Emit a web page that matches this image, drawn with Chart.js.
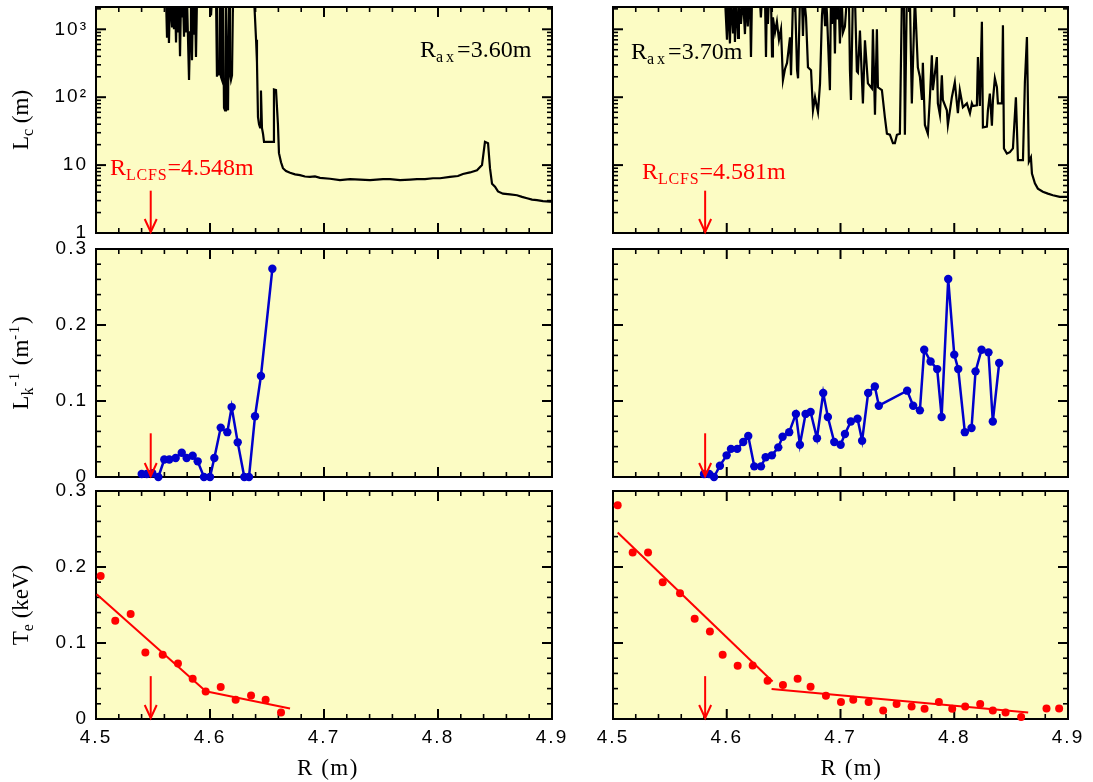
<!DOCTYPE html>
<html><head><meta charset="utf-8">
<script src="https://cdn.jsdelivr.net/npm/chart.js@4.4.1/dist/chart.umd.min.js"></script>
<style>
html,body{margin:0;padding:0;background:#fff;}
#wrap{position:relative;width:1093px;height:782px;overflow:hidden;background:#fff;}
canvas{position:absolute;left:0;top:0;}
</style></head><body><div id="wrap">
<canvas id="c0" width="1093" height="782"></canvas>
<canvas id="c1" width="1093" height="782"></canvas>
<canvas id="c2" width="1093" height="782"></canvas>
<canvas id="c3" width="1093" height="782"></canvas>
<canvas id="c4" width="1093" height="782"></canvas>
<canvas id="c5" width="1093" height="782"></canvas>
</div>
<script>
// ---------------- data ----------------
const xTicks = [4.5, 4.6, 4.7, 4.8, 4.9];
const xTickLabels = ['4.5', '4.6', '4.7', '4.8', '4.9'];
const lcTickVals = [1, 10, 100, 1000];
const lcTickLabels = ['1', '10', '10\u00B2', '10\u00B3'];
const linTickVals = [0, 0.1, 0.2, 0.3];
const linTickLabels = ['0', '0.1', '0.2', '0.3'];

const rLCFS360 = 4.548;
const rLCFS370 = 4.581;

// connection length L_c (m), R_ax = 3.60 m
const lc360 = [
[4.5605,3000],[4.5614,3000],[4.5623,750],[4.5632,3000],[4.5640,630],[4.5649,3000],[4.5667,1100],[4.5675,3000],
[4.5684,1000],[4.5693,3000],[4.5702,640],[4.5711,3000],[4.5719,900],[4.5728,3000],[4.5737,400],[4.5746,3000],
[4.5754,1500],[4.5763,3000],[4.5772,780],[4.5781,3000],[4.5789,900],[4.5798,3000],[4.5816,180],[4.5825,900],
[4.5833,3000],[4.5842,350],[4.5851,3000],[4.5860,860],[4.5868,3000],[4.5877,390],[4.5886,3000],[4.6000,3000],
[4.6009,1600],[4.6018,3000],[4.6053,3000],[4.6061,200],[4.6070,350],[4.6079,210],[4.6088,3000],[4.6096,200],
[4.6105,180],[4.6114,3000],[4.6123,70],[4.6132,64],[4.6140,3000],[4.6149,200],[4.6158,64],[4.6167,3000],
[4.6175,230],[4.6184,180],[4.6193,210],[4.6202,3000],[4.6386,3000],[4.6404,700],[4.6412,330],[4.6421,51],
[4.6430,40],[4.6439,36],[4.6447,125],[4.6456,35],[4.6465,29],[4.6474,22],[4.6553,22],[4.6561,130],
[4.6579,127],[4.6596,40],[4.6605,15],[4.6623,11],[4.6640,9],[4.6667,8.2],[4.6702,7.7],[4.6746,7.3],
[4.6789,7.1],[4.6833,6.8],[4.6877,6.7],[4.6921,6.8],[4.6965,6.5],[4.7053,6.3],[4.7140,6.0],[4.7228,6.2],
[4.7316,6.1],[4.7404,6.0],[4.7518,6.2],[4.7579,6.2],[4.7667,6.0],[4.7754,6.1],[4.7816,6.2],[4.7886,6.2],
[4.7956,6.4],[4.8018,6.4],[4.8105,6.7],[4.8175,6.9],[4.8219,7.4],[4.8281,7.8],[4.8342,8.4],[4.8386,10],
[4.8412,22],[4.8439,21],[4.8456,9],[4.8474,5.3],[4.8500,4.8],[4.8526,4.1],[4.8570,3.8],[4.8632,3.7],
[4.8693,3.6],[4.8737,3.4],[4.8781,3.25],[4.8825,3.1],[4.8868,3.05],[4.8921,2.95],[4.8982,2.9],[4.9000,2.9]
];

// connection length L_c (m), R_ax = 3.70 m
const lc370 = [
[4.5984,3000],[4.6002,700],[4.6011,3000],[4.6028,620],[4.6037,3000],[4.6055,900],[4.6063,3000],[4.6072,650],
[4.6081,3000],[4.6099,750],[4.6107,3000],[4.6125,1200],[4.6143,3000],[4.6160,850],[4.6170,3000],[4.6185,1100],
[4.6195,3000],[4.6204,3000],[4.6213,390],[4.6222,3000],[4.6290,3000],[4.6300,1500],[4.6310,3000],
[4.6336,3000],[4.6345,390],[4.6353,3000],[4.6362,1200],[4.6371,3000],[4.6389,3000],[4.6398,400],[4.6406,1500],
[4.6424,900],[4.6441,1300],[4.6459,700],[4.6477,1000],[4.6494,178],[4.6512,260],[4.6530,320],[4.6556,760],
[4.6565,210],[4.6583,3000],[4.6600,3000],[4.6618,250],[4.6627,190],[4.6644,3000],[4.6661,3000],[4.6670,800],
[4.6680,3000],[4.6697,1500],[4.6714,275],[4.6741,250],[4.6758,64],[4.6776,100],[4.6793,71],[4.6802,60],
[4.6820,160],[4.6837,1600],[4.6850,3000],[4.6864,1150],[4.6872,3000],[4.6881,1700],[4.6907,127],[4.6916,3000],
[4.6925,1200],[4.6940,3000],[4.6951,440],[4.6960,3000],[4.6969,1400],[4.6982,3000],[4.6995,620],[4.7010,3000],
[4.7022,900],[4.7039,1100],[4.7057,3000],[4.7074,3000],[4.7083,250],[4.7092,91],[4.7109,3000],[4.7127,3000],
[4.7144,240],[4.7153,230],[4.7171,960],[4.7197,81],[4.7215,690],[4.7241,160],[4.7276,135],[4.7285,1000],
[4.7303,55],[4.7320,1000],[4.7329,140],[4.7364,127],[4.7390,51],[4.7408,29],[4.7434,28],[4.7461,21],
[4.7478,21],[4.7496,28],[4.7522,29],[4.7540,3000],[4.7557,3000],[4.7566,28],[4.7583,3000],[4.7610,3000],
[4.7627,81],[4.7654,3000],[4.7680,275],[4.7698,200],[4.7716,91],[4.7724,320],[4.7742,39],[4.7768,29],
[4.7786,100],[4.7803,415],[4.7812,127],[4.7847,390],[4.7856,81],[4.7874,55],[4.7891,210],[4.7900,91],
[4.7935,64],[4.7944,39],[4.7979,100],[4.8005,166],[4.8032,58],[4.8049,127],[4.8076,71],[4.8111,81],
[4.8138,58],[4.8155,81],[4.8164,74],[4.8199,76],[4.8208,390],[4.8225,74],[4.8243,1290],[4.8252,36],
[4.8287,37],[4.8296,64],[4.8313,113],[4.8331,38],[4.8340,90],[4.8357,190],[4.8375,140],[4.8384,81],
[4.8419,81],[4.8428,1150],[4.8437,17.6],[4.8463,14.8],[4.8489,15.5],[4.8516,17.6],[4.8542,100],[4.8560,11.8],
[4.8604,11.8],[4.8621,167],[4.8639,770],[4.8656,11.2],[4.8674,13],[4.8683,7.5],[4.8709,5.4],[4.8735,4.5],
[4.8779,4.05],[4.8823,3.8],[4.8867,3.6],[4.8928,3.4],[4.9000,3.4]
];

// L_k^-1 (m^-1)
const lk360 = [
[4.5401,0.004],[4.5445,0.004],[4.5494,0.005],[4.5547,0.0],[4.5599,0.023],[4.5643,0.023],[4.5699,0.025],
[4.5752,0.032],[4.5795,0.025],[4.5848,0.028],[4.5892,0.0206],[4.5947,0],[4.6000,0],[4.6038,0.025],
[4.6094,0.065],[4.6152,0.059],[4.6190,0.092],[4.6243,0.0456],[4.6301,0],[4.6342,0],[4.6395,0.080],
[4.6447,0.133],[4.6547,0.274]
];
const lk370 = [
[4.5800,0.004],[4.5846,0.004],[4.5888,0],[4.5940,0.0149],[4.5999,0.0285],[4.6037,0.037],[4.6092,0.037],
[4.6145,0.046],[4.6189,0.054],[4.6242,0.014],[4.6301,0.014],[4.6342,0.026],[4.6397,0.0285],[4.6453,0.039],
[4.6491,0.053],[4.6549,0.059],[4.6608,0.083],[4.6643,0.0425],[4.6693,0.083],[4.6737,0.0855],[4.6793,0.051],
[4.6848,0.1105],[4.6889,0.079],[4.6945,0.046],[4.7001,0.0425],[4.7039,0.0566],[4.7091,0.073],[4.7150,0.0767],
[4.7190,0.0478],[4.7243,0.1105],[4.7302,0.119],[4.7337,0.0938],[4.7586,0.1136],[4.7639,0.0938],[4.7698,0.0877],
[4.7736,0.1675],[4.7792,0.152],[4.7850,0.142],[4.7889,0.079],[4.7947,0.2605],[4.8000,0.161],[4.8035,0.142],
[4.8093,0.059],[4.8152,0.0645],[4.8187,0.139],[4.8240,0.1675],[4.8301,0.164],[4.8339,0.073],[4.8395,0.15]
];

// T_e (keV) measured points and two-segment fits
const te360 = [
[4.5041,0.188],[4.5169,0.1294],[4.5304,0.138],[4.5433,0.0874],[4.5585,0.0844],[4.5719,0.073],[4.5848,0.0529],
[4.5962,0.0362],[4.6094,0.042],[4.6225,0.0253],[4.6360,0.031],[4.6488,0.0253],[4.6623,0.0087]
];
const teFitIn360 = [[4.5006,0.164],[4.5941,0.0394]];
const teFitOut360 = [[4.5941,0.0371],[4.6702,0.0139]];

const te370 = [
[4.5041,0.2812],[4.5173,0.219],[4.5308,0.219],[4.5437,0.1798],[4.5589,0.1654],[4.5718,0.132],[4.5852,0.115],
[4.5964,0.0844],[4.6096,0.070],[4.6228,0.0703],[4.6359,0.0503],[4.6494,0.0446],[4.6623,0.0529],[4.6737,0.0424],
[4.6872,0.0306],[4.7004,0.0223],[4.7112,0.0253],[4.7247,0.0223],[4.7375,0.0113],[4.7493,0.0197],[4.7625,0.0165],
[4.7739,0.0135],[4.7865,0.0223],[4.7982,0.0135],[4.8096,0.0165],[4.8228,0.0197],[4.8339,0.0113],[4.8451,0.0087],
[4.8588,0.0026],[4.8811,0.0139],[4.8922,0.0139]
];
const teFitIn370 = [[4.5041,0.2454],[4.6403,0.0494]];
const teFitOut370 = [[4.6394,0.0394],[4.8650,0.0087]];

// ---------------- style ----------------
const BG = '#fcfcc4';
const RED = '#ff0000';
const BLUE = '#0000cc';
const SANS = '"Liberation Sans", Arial, Helvetica, sans-serif';
const SERIF = '"Liberation Serif", "Times New Roman", Times, serif';
const W = 1093, H = 782;

function pts(arr) { return arr.map(p => ({x: p[0], y: p[1]})); }

function partsWidth(ctx, parts) {
  let w = 0;
  for (const p of parts) {
    ctx.font = (p.size || 23) + 'px ' + SERIF;
    ctx.letterSpacing = (p.ls || 0) + 'px';
    w += ctx.measureText(p.t).width + (p.gap || 0);
  }
  return w;
}
function drawParts(ctx, parts, x, y) {
  let cx = x;
  for (const p of parts) {
    ctx.font = (p.size || 23) + 'px ' + SERIF;
    ctx.letterSpacing = (p.ls || 0) + 'px';
    ctx.fillText(p.t, cx, y + (p.dy || 0));
    cx += ctx.measureText(p.t).width + (p.gap || 0);
  }
  ctx.letterSpacing = '0px';
}
function seg(ctx, x0, y0, x1, y1) { ctx.beginPath(); ctx.moveTo(x0, y0); ctx.lineTo(x1, y1); ctx.stroke(); }

const framePlugin = {
  id: 'frame',
  beforeDraw(chart) {
    const {ctx, chartArea: a} = chart;
    ctx.save();
    ctx.fillStyle = BG;
    ctx.fillRect(a.left, a.top, a.right - a.left, a.bottom - a.top);
    ctx.restore();
    ctx.letterSpacing = '2px';
  },
  beforeDatasetsDraw(chart, args, o) {
    const {ctx, chartArea: a, scales} = chart;
    ctx.letterSpacing = '0px';
    const xs = scales.x, ys = scales.y;
    ctx.save();
    ctx.strokeStyle = '#000';
    ctx.lineCap = 'butt';
    for (let i = 0; i <= 20; i++) {
      const v = 4.5 + i * 0.02;
      const px = xs.getPixelForValue(v);
      const major = i % 5 === 0;
      const len = major ? 10 : 5;
      ctx.lineWidth = major ? 2 : 1.6;
      seg(ctx, px, a.bottom, px, a.bottom - len);
      seg(ctx, px, a.top, px, a.top + len);
    }
    const yt = [];
    if (o.log) {
      for (const d of [1, 10, 100, 1000]) {
        for (let m = 1; m <= 9; m++) {
          const v = d * m;
          if (v <= ys.max) yt.push({v, major: m === 1});
        }
      }
    } else {
      for (let i = 0; i <= 15; i++) yt.push({v: i * 0.02, major: i % 5 === 0});
    }
    for (const t of yt) {
      const py = ys.getPixelForValue(t.v);
      const len = t.major ? 10 : 5;
      ctx.lineWidth = t.major ? 2 : 1.6;
      seg(ctx, a.left, py, a.left + len, py);
      seg(ctx, a.right, py, a.right - len, py);
    }
    ctx.lineWidth = 2;
    ctx.strokeRect(a.left, a.top, a.right - a.left, a.bottom - a.top);
    ctx.restore();
  },
  afterDatasetsDraw(chart, args, o) {
    const {ctx, chartArea: a, scales} = chart;
    const xs = scales.x, ys = scales.y;
    ctx.save();
    if (o.arrow) {
      const x = xs.getPixelForValue(o.arrow.r);
      const y0 = ys.getPixelForValue(o.arrow.from);
      const y1 = a.bottom - 1;
      ctx.strokeStyle = RED;
      ctx.lineWidth = 2;
      seg(ctx, x, y0, x, y1);
      ctx.beginPath();
      ctx.moveTo(x - 6, y1 - 13); ctx.lineTo(x, y1); ctx.lineTo(x + 6, y1 - 13);
      ctx.stroke();
    }
    ctx.textBaseline = 'alphabetic';
    ctx.textAlign = 'left';
    for (const t of (o.texts || [])) {
      ctx.fillStyle = t.color;
      drawParts(ctx, t.parts, a.left + t.dx, a.top + t.dy);
    }
    if (o.yTitle) {
      ctx.save();
      ctx.fillStyle = '#000';
      ctx.translate(28, (a.top + a.bottom) / 2);
      ctx.rotate(-Math.PI / 2);
      const w = partsWidth(ctx, o.yTitle);
      drawParts(ctx, o.yTitle, -w / 2, 0);
      ctx.restore();
    }
    if (o.xTitle) {
      ctx.fillStyle = '#000';
      const w = partsWidth(ctx, o.xTitle.parts);
      drawParts(ctx, o.xTitle.parts, (a.left + a.right) / 2 + o.xTitle.dx - w / 2, 775);
    }
    ctx.restore();
  }
};

function makePanel(id, col, row, cfg) {
  const showY = col === 0, showX = row === 2;
  const area = {
    l: col === 0 ? 96 : 613, r: col === 0 ? 552 : 1068,
    t: [7, 249, 491][row], b: [233, 477, 719][row]
  };
  const yW = showY ? 80 : 0, xH = showX ? 45 : 0;
  const isLog = row === 0;
  const yVals = isLog ? lcTickVals : linTickVals;
  const yLabs = isLog ? lcTickLabels : linTickLabels;
  return new Chart(document.getElementById(id), {
    type: 'line',
    data: {datasets: cfg.datasets},
    plugins: [framePlugin],
    options: {
      responsive: false, animation: false, devicePixelRatio: 1,
      events: [],
      layout: {padding: {left: area.l - yW, right: W - area.r, top: area.t, bottom: H - area.b - xH}},
      plugins: {
        legend: {display: false}, tooltip: {enabled: false},
        frame: {log: isLog, arrow: cfg.arrow, texts: cfg.texts, yTitle: showY ? cfg.yTitle : null, xTitle: showX ? cfg.xTitle : null}
      },
      scales: {
        x: {
          type: 'linear', position: 'bottom', min: 4.5, max: 4.9,
          grid: {display: false, drawTicks: false}, border: {display: false},
          ticks: {display: showX, autoSkip: false, maxRotation: 0, padding: 7, color: '#000',
                  font: {family: SANS, size: 19}, callback: (v, i) => xTickLabels[i]},
          afterBuildTicks: s => { s.ticks = xTicks.map(v => ({value: v})); },
          afterFit: s => { s.height = xH; s.paddingLeft = 0; s.paddingRight = 0; }
        },
        y: {
          type: isLog ? 'logarithmic' : 'linear', position: 'left',
          min: isLog ? 1 : 0, max: isLog ? 2130 : 0.3,
          grid: {display: false, drawTicks: false}, border: {display: false},
          ticks: {display: showY, autoSkip: false, padding: 8, color: '#000',
                  font: {family: SANS, size: 19}, callback: (v, i) => yLabs[i]},
          afterBuildTicks: s => { s.ticks = yVals.map(v => ({value: v})); },
          afterFit: s => { s.width = yW; s.paddingTop = 0; s.paddingBottom = 0; }
        }
      }
    }
  });
}

function lcSet(arr) {
  return {data: pts(arr), borderColor: '#000', borderWidth: 2.2, pointRadius: 0, tension: 0, clip: 0};
}
function lkSet(arr) {
  return {data: pts(arr), borderColor: BLUE, backgroundColor: BLUE, borderWidth: 2.5,
          pointRadius: 4.2, pointBackgroundColor: BLUE, pointBorderColor: BLUE, pointBorderWidth: 0,
          tension: 0, clip: false};
}
function tePts(arr) {
  return {data: pts(arr), showLine: false, pointRadius: 4, pointBackgroundColor: RED,
          pointBorderColor: RED, pointBorderWidth: 0, clip: false};
}
function fitSet(arr) {
  return {data: pts(arr), borderColor: RED, borderWidth: 2, pointRadius: 0, tension: 0, clip: false};
}

const subS = 16;
function raxText(val) {
  return [{t: 'R'}, {t: 'ax', size: subS, dy: 5, ls: 3}, {t: '=' + val + 'm'}].map(p => Object.assign({size: 24}, p));
}
function lcfsText(val) {
  return [{t: 'R'}, {t: 'LCFS', size: subS, dy: 5, ls: 0.8}, {t: '=' + val + 'm'}].map(p => Object.assign({size: 24}, p));
}
const yTitleLc = [{t: 'L'}, {t: 'c', size: 16, dy: 5}, {t: ' (m)'}];
const yTitleLk = [{t: 'L'}, {t: 'k', size: 16, dy: 5, gap: 1}, {t: '-1', size: 14, dy: -9, ls: 2}, {t: ' (m'}, {t: '-1', size: 14, dy: -9, ls: 2}, {t: ')'}];
const yTitleTe = [{t: 'T'}, {t: 'e', size: 16, dy: 5}, {t: ' (keV)'}];
const xTitleParts = [{t: 'R (m)', ls: 1.5}];

makePanel('c0', 0, 0, {
  datasets: [lcSet(lc360)],
  arrow: {r: rLCFS360, from: 4.2},
  texts: [{parts: raxText('3.60'), dx: 324, dy: 50, color: '#000'},
          {parts: lcfsText('4.548'), dx: 14, dy: 168, color: RED}],
  yTitle: yTitleLc
});
makePanel('c1', 1, 0, {
  datasets: [lcSet(lc370)],
  arrow: {r: rLCFS370, from: 4.2},
  texts: [{parts: raxText('3.70'), dx: 18, dy: 52, color: '#000'},
          {parts: lcfsText('4.581'), dx: 29, dy: 172, color: RED}]
});
makePanel('c2', 0, 1, {
  datasets: [lkSet(lk360)],
  arrow: {r: rLCFS360, from: 0.0575},
  yTitle: yTitleLk
});
makePanel('c3', 1, 1, {
  datasets: [lkSet(lk370)],
  arrow: {r: rLCFS370, from: 0.0575}
});
makePanel('c4', 0, 2, {
  datasets: [fitSet(teFitIn360), fitSet(teFitOut360), tePts(te360)],
  arrow: {r: rLCFS360, from: 0.0564},
  yTitle: yTitleTe,
  xTitle: {parts: xTitleParts, dx: 4}
});
makePanel('c5', 1, 2, {
  datasets: [fitSet(teFitIn370), fitSet(teFitOut370), tePts(te370)],
  arrow: {r: rLCFS370, from: 0.0564},
  xTitle: {parts: xTitleParts, dx: 11}
});
</script>
</body></html>
